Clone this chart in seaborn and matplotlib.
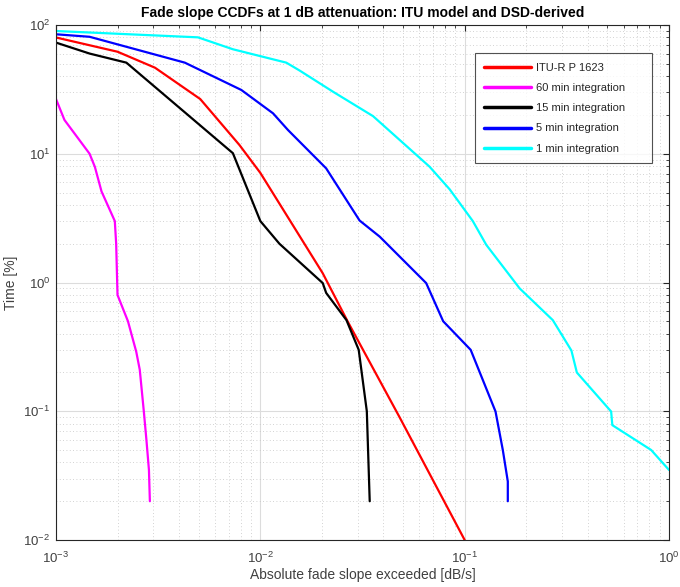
import matplotlib
matplotlib.use("Agg")
import matplotlib.pyplot as plt
import matplotlib.ticker as mticker
import numpy as np
import pandas as pd
import seaborn as sns

# values (x: fade slope dB/s, y: time %)
itu_x = [0.001, 0.002, 0.00305, 0.00508, 0.0079, 0.01, 0.0202, 0.0269, 0.048, 0.1]
itu_y = [80, 62, 46.6, 26.6, 11.7, 7.1, 1.18, 0.49, 0.09, 0.01]

m60_x = [0.001, 0.0011, 0.00146, 0.00155, 0.00167, 0.00194, 0.00197, 0.002,
         0.00225, 0.00247, 0.00257, 0.00269, 0.00277, 0.00285, 0.00288]
m60_y = [26.6, 18.3, 10, 7.9, 5.1, 3.0, 2.0, 0.80, 0.50, 0.29, 0.21, 0.10, 0.06, 0.035, 0.02]

m15_x = [0.001, 0.00146, 0.00221, 0.00734, 0.01, 0.0124, 0.0202, 0.021, 0.0264,
         0.0303, 0.0332, 0.0343]
m15_y = [73, 60, 51, 10.1, 3.0, 2.0, 0.99, 0.83, 0.51, 0.30, 0.10, 0.02]

m5_x = [0.001, 0.00146, 0.00427, 0.00807, 0.01154, 0.01365, 0.021, 0.0306, 0.0384,
        0.0648, 0.0785, 0.107, 0.1416, 0.1537, 0.1626, 0.1626]
m5_y = [84.7, 81, 51, 31.3, 20.6, 15.3, 7.7, 3.03, 2.27, 0.99, 0.50, 0.30, 0.0995,
        0.050, 0.0285, 0.02]

m1_x = [0.001, 0.00495, 0.00734, 0.0134, 0.0156, 0.0227, 0.0356, 0.0673, 0.0844,
        0.1096, 0.1276, 0.1858, 0.270, 0.333, 0.354, 0.521, 0.528, 0.818, 1.0]
m1_y = [89.8, 80.2, 64.8, 51, 44.2, 30.3, 19.6, 7.94, 5.3, 3.0, 1.96, 0.90, 0.51,
        0.296, 0.20, 0.0995, 0.078, 0.050, 0.035]

labels = ["ITU-R P 1623", "60 min integration", "15 min integration",
          "5 min integration", "1 min integration"]
colors = ["#ff0000", "#ff00ff", "#000000", "#0000ff", "#00ffff"]

series = [(itu_x, itu_y), (m60_x, m60_y), (m15_x, m15_y), (m5_x, m5_y), (m1_x, m1_y)]
frames = []
for name, (xs, ys) in zip(labels, series):
    frames.append(pd.DataFrame({"slope": xs, "time": ys, "series": name}))
df = pd.concat(frames, ignore_index=True)

sns.set_style("white")
plt.rcParams["font.family"] = ["Liberation Sans", "DejaVu Sans"]
plt.rcParams["mathtext.fontset"] = "custom"
plt.rcParams["mathtext.rm"] = "Liberation Sans"
plt.rcParams["mathtext.it"] = "Liberation Sans"
plt.rcParams["axes.unicode_minus"] = False

fig = plt.figure(figsize=(6.8, 5.87), dpi=100)
ax = fig.add_axes([56 / 680, 1 - 540 / 587, 613 / 680, 515 / 587])

sns.lineplot(data=df, x="slope", y="time", hue="series", hue_order=labels,
             palette=dict(zip(labels, colors)), sort=False, estimator=None,
             units="series", linewidth=1.6, ax=ax)

ax.set_xscale("log")
ax.set_yscale("log")
ax.set_xlim(1e-3, 1)
ax.set_ylim(1e-2, 1e2)

ax.xaxis.set_major_locator(mticker.LogLocator(base=10, numticks=10))
ax.yaxis.set_major_locator(mticker.LogLocator(base=10, numticks=10))
ax.xaxis.set_minor_locator(mticker.LogLocator(base=10, subs=np.arange(2, 10), numticks=20))
ax.yaxis.set_minor_locator(mticker.LogLocator(base=10, subs=np.arange(2, 10), numticks=20))
ax.xaxis.set_minor_formatter(mticker.NullFormatter())
ax.yaxis.set_minor_formatter(mticker.NullFormatter())

ax.grid(True, which="major", color="#dcdcdc", linewidth=0.8, linestyle="-")
ax.grid(True, which="minor", color="#c4c4c4", linewidth=0.6, linestyle=(0, (1, 3)))
ax.set_axisbelow(True)

ax.tick_params(which="both", direction="in", top=True, right=True,
               colors="#262626", labelcolor="#404040", labelsize=9.5)
ax.tick_params(axis="x", which="major", length=4, pad=8)
ax.tick_params(axis="y", which="major", length=4, pad=4)
ax.tick_params(which="minor", length=2)
for sp in ax.spines.values():
    sp.set_color("#262626")
    sp.set_linewidth(0.8)

ax.set_title("Fade slope CCDFs at 1 dB attenuation: ITU model and DSD-derived",
             fontsize=10, fontweight="bold", color="#000000", pad=6)
ax.set_xlabel("Absolute fade slope exceeded [dB/s]", fontsize=10, color="#404040",
              labelpad=1)
ax.set_ylabel("Time [%]", fontsize=10, color="#404040", labelpad=4)

leg = ax.legend(loc="upper left", bbox_to_anchor=(0.6835, 0.5, 0.289, 0.445),
                mode="expand", borderaxespad=0, frameon=True, fancybox=False,
                edgecolor="#262626", fontsize=8, handlelength=4.2,
                handletextpad=0.4, labelspacing=0.92, borderpad=0.85, title=None)
leg.get_frame().set_linewidth(0.8)
for line in leg.get_lines():
    line.set_linewidth(2.5)

fig.savefig("out.png", dpi=100)
